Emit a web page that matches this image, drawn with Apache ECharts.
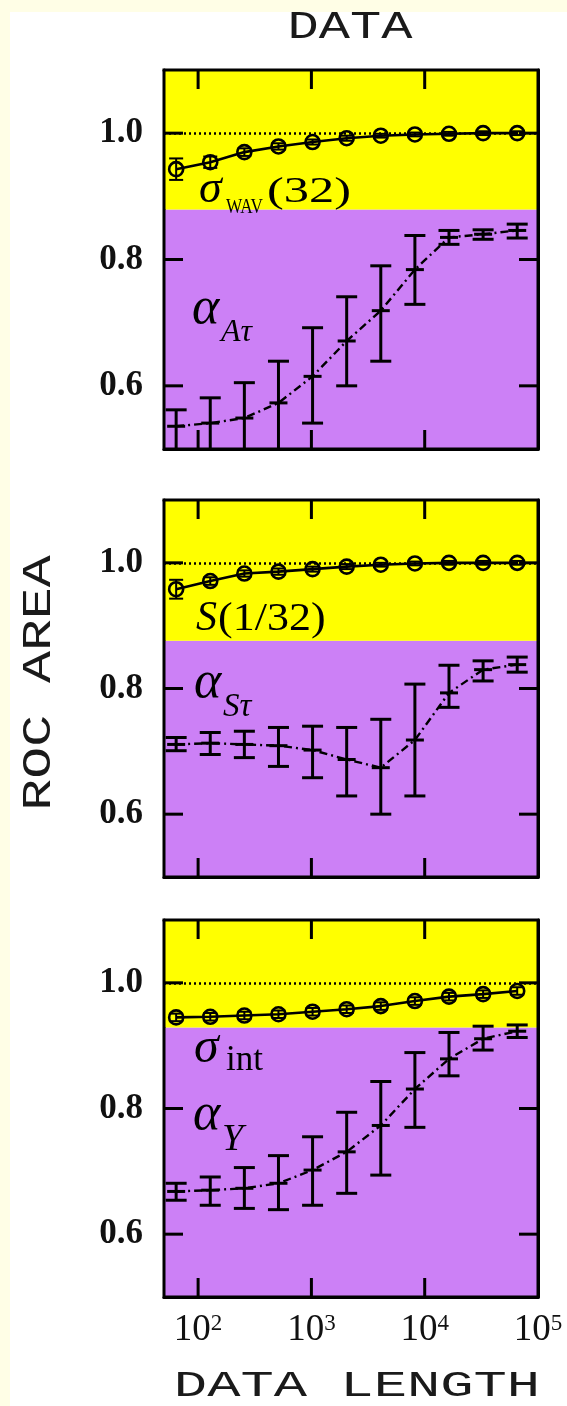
<!DOCTYPE html>
<html><head><meta charset="utf-8">
<script src="https://cdn.jsdelivr.net/npm/echarts@6/dist/echarts.min.js"></script>
<style>html,body{margin:0;padding:0;background:#fff}#c{width:567px;height:1406px}</style>
</head><body><div id="c"></div>
<script>
// ---------------- DATA ----------------
const dataLengths = [64, 128, 256, 512, 1024, 2048, 4096, 8192, 16384, 32768, 65536];
const xTickExponents = [2, 3, 4, 5];
const xTickValues = [100, 1000, 10000];
const yTickValues = [0.6, 0.8, 1.0];

// Panel 1: sigma_WAV(32) and alpha_Atau
const sigmaWav = [0.943, 0.954, 0.970, 0.979, 0.986, 0.992, 0.996, 0.998, 0.999, 1.000, 1.000];
const sigmaWavErr = [0.017, 0.009, 0.006, 0.005, 0.004, 0.004, 0.003, 0.003, 0.003, 0.003, 0.003];
const alphaAtau = [0.536, 0.541, 0.549, 0.573, 0.615, 0.671, 0.719, 0.784, 0.835, 0.840, 0.846];
const alphaAtauLo = [0.49, 0.49, 0.49, 0.49, 0.541, 0.600, 0.639, 0.729, 0.824, 0.832, 0.834];
const alphaAtauHi = [0.562, 0.581, 0.605, 0.639, 0.692, 0.741, 0.790, 0.838, 0.846, 0.847, 0.856];

// Panel 2: S(1/32) and alpha_Stau
const sOneThirtyTwo = [0.958, 0.971, 0.983, 0.986, 0.990, 0.994, 0.997, 0.999, 1.000, 1.000, 1.000];
const sOneThirtyTwoErr = [0.015, 0.006, 0.005, 0.005, 0.004, 0.004, 0.003, 0.003, 0.003, 0.003, 0.003];
const alphaStau = [0.711, 0.713, 0.711, 0.709, 0.702, 0.687, 0.674, 0.718, 0.793, 0.830, 0.838];
const alphaStauLo = [0.701, 0.695, 0.690, 0.676, 0.658, 0.629, 0.600, 0.629, 0.770, 0.812, 0.826];
const alphaStauHi = [0.722, 0.730, 0.732, 0.738, 0.740, 0.738, 0.751, 0.807, 0.837, 0.844, 0.850];

// Panel 3: sigma_int and alpha_Y
const sigmaInt = [0.945, 0.946, 0.948, 0.950, 0.954, 0.958, 0.963, 0.971, 0.978, 0.982, 0.987];
const sigmaIntErr = [0.006, 0.006, 0.006, 0.006, 0.006, 0.006, 0.006, 0.006, 0.006, 0.006, 0.006];
const alphaY = [0.668, 0.670, 0.673, 0.681, 0.702, 0.731, 0.773, 0.831, 0.879, 0.911, 0.923];
const alphaYLo = [0.654, 0.646, 0.641, 0.639, 0.646, 0.665, 0.694, 0.770, 0.852, 0.893, 0.913];
const alphaYHi = [0.681, 0.691, 0.706, 0.725, 0.755, 0.794, 0.843, 0.889, 0.921, 0.931, 0.933];

// yellow / purple band boundary per panel
const bandSplit = [0.879, 0.876, 0.929];
const referenceLevel = 1.0;

// ---------------- STYLE / LAYOUT ----------------
const YELLOW = '#FFFF00', PURPLE = '#CC80F6';
const SERIF = '"Liberation Serif", "Times New Roman", serif';
const MONO = '"Liberation Mono", "Courier New", monospace';
const X_MIN = 50, X_MAX = 100000, Y_MIN = 0.5, Y_MAX = 1.1;
const TICK_LEN = 19;

const panels = [
  {sig: sigmaWav, sigErr: sigmaWavErr, a: alphaAtau, lo: alphaAtauLo, hi: alphaAtauHi, split: bandSplit[0]},
  {sig: sOneThirtyTwo, sigErr: sOneThirtyTwoErr, a: alphaStau, lo: alphaStauLo, hi: alphaStauHi, split: bandSplit[1]},
  {sig: sigmaInt, sigErr: sigmaIntErr, a: alphaY, lo: alphaYLo, hi: alphaYHi, split: bandSplit[2]}
];
const gridPos = [
  {left: 164, right: 29, top: 70, height: 379},
  {left: 164, right: 29, top: 500, height: 377},
  {left: 164, right: 29, top: 920, height: 377}
];

function tickStyle() { return {show: true, inside: true, length: TICK_LEN, lineStyle: {color: '#000', width: 3}}; }
function axisLineStyle() { return {show: true, lineStyle: {color: '#000', width: 3}}; }
function isYTick(v) { return yTickValues.some(t => Math.abs(t - v) < 1e-6); }

const grid = [], xAxis = [], yAxis = [], series = [];

function errRender(capW, midW, lw) {
  return function (params, api) {
    const x = api.value(0), lo = api.value(1), hi = api.value(2), m = api.value(3);
    const pH = api.coord([x, hi]), pL = api.coord([x, lo]), pM = api.coord([x, m]);
    const st = {stroke: '#000', lineWidth: lw};
    const children = [
      {type: 'line', shape: {x1: pH[0], y1: pH[1], x2: pL[0], y2: pL[1]}, style: st},
      {type: 'line', shape: {x1: pH[0] - capW / 2, y1: pH[1], x2: pH[0] + capW / 2, y2: pH[1]}, style: st},
      {type: 'line', shape: {x1: pL[0] - capW / 2, y1: pL[1], x2: pL[0] + capW / 2, y2: pL[1]}, style: st}
    ];
    if (midW > 0) children.push({type: 'line', shape: {x1: pM[0] - midW / 2, y1: pM[1], x2: pM[0] + midW / 2, y2: pM[1]}, style: st});
    return {type: 'group', children};
  };
}

panels.forEach((p, k) => {
  grid.push(gridPos[k]);
  const isLast = k === panels.length - 1;
  xAxis.push({
    type: 'log', gridIndex: k, min: X_MIN, max: X_MAX, position: 'bottom',
    axisLine: axisLineStyle(), axisTick: tickStyle(), minorTick: {show: false}, splitLine: {show: false},
    axisLabel: {
      show: isLast, margin: 15, color: '#111', fontFamily: SERIF,
      formatter: function (v) {
        const e = Math.log10(v);
        const r = Math.round(e);
        if (Math.abs(e - r) > 1e-6 || xTickExponents.indexOf(r) < 0) return '';
        return '{b|10}{s|' + r + '}';
      },
      rich: {
        b: {fontSize: 37, lineHeight: 37, fontFamily: SERIF, color: '#111'},
        s: {fontSize: 23, lineHeight: 23, fontFamily: SERIF, color: '#111', verticalAlign: 'top'}
      }
    }
  });
  xAxis.push({
    type: 'log', gridIndex: k, min: X_MIN, max: X_MAX, position: 'top',
    axisLine: axisLineStyle(), axisTick: tickStyle(), minorTick: {show: false}, splitLine: {show: false},
    axisLabel: {show: false}
  });
  yAxis.push({
    type: 'value', gridIndex: k, min: Y_MIN, max: Y_MAX, interval: 0.1, position: 'left',
    axisLine: axisLineStyle(), splitLine: {show: false}, axisTick: {show: false},
    axisLabel: {margin: 21, fontFamily: SERIF, fontWeight: 'bold', fontSize: 35, color: '#111',
      showMinLabel: false, showMaxLabel: false,
      formatter: v => (isYTick(v) ? v.toFixed(1) : '')}
  });
  yAxis.push({
    type: 'value', gridIndex: k, min: Y_MIN, max: Y_MAX, interval: 0.1, position: 'right',
    axisLine: axisLineStyle(), splitLine: {show: false}, axisTick: {show: false},
    axisLabel: {show: false}
  });
  const xi = 2 * k, yi = 2 * k;
  // alpha dashed line + background bands + reference line
  series.push({
    type: 'line', xAxisIndex: xi, yAxisIndex: yi, z: 2, silent: true,
    data: dataLengths.map((n, i) => [n, p.a[i]]),
    showSymbol: false, symbol: 'none',
    lineStyle: {color: '#000', width: 2.4, type: [8, 4, 2, 4]},
    markArea: {
      silent: true,
      data: [
        [{yAxis: Y_MIN, itemStyle: {color: PURPLE}}, {yAxis: p.split}],
        [{yAxis: p.split, itemStyle: {color: YELLOW}}, {yAxis: Y_MAX}]
      ]
    },
    markLine: {
      silent: true, symbol: ['none', 'none'], label: {show: false},
      lineStyle: {color: '#000', width: 2.5, type: [2, 3]},
      emphasis: {disabled: true},
      data: [{yAxis: referenceLevel}]
    }
  });
  // alpha error bars
  series.push({
    type: 'custom', xAxisIndex: xi, yAxisIndex: yi, z: 4, clip: true, silent: true,
    renderItem: errRender(21, 18, 3),
    encode: {x: 0, y: [1, 2]},
    data: dataLengths.map((n, i) => [n, p.lo[i], p.hi[i], p.a[i]])
  });
  // sigma solid line with circles
  series.push({
    type: 'line', xAxisIndex: xi, yAxisIndex: yi, z: 5, silent: true,
    data: dataLengths.map((n, i) => [n, p.sig[i]]),
    symbol: 'circle', symbolSize: 14,
    itemStyle: {color: 'rgba(0,0,0,0)', borderColor: '#000', borderWidth: 2.6},
    lineStyle: {color: '#000', width: 2.6}
  });
  series.push({
    type: 'custom', xAxisIndex: xi, yAxisIndex: yi, z: 6, clip: true, silent: true,
    renderItem: errRender(14, 0, 2),
    encode: {x: 0, y: [1, 2]},
    data: dataLengths.map((n, i) => [n, p.sig[i] - p.sigErr[i], p.sig[i] + p.sigErr[i], p.sig[i]])
  });
});

function txt(text, x, y, font, extra) {
  return Object.assign({type: 'text', x: x, y: y, z: 100, silent: true,
    style: {text: text, font: font, fill: '#000', textAlign: 'left', textVerticalAlign: 'middle'}}, extra || {});
}

const graphic = [
  {type: 'rect', shape: {x: 0, y: 0, width: 567, height: 12}, style: {fill: '#FFFEE6'}, z: 0, silent: true},
  {type: 'rect', shape: {x: 0, y: 0, width: 10, height: 1406}, style: {fill: '#FFFEE6'}, z: 0, silent: true},
  {type: 'text', x: 350, y: 28, scaleX: 1.37, z: 100, silent: true,
    style: {text: 'DATA', font: '38px ' + MONO, fill: '#1a1a1a', textAlign: 'center', textVerticalAlign: 'middle'}},
  {type: 'text', x: 357, y: 1386, scaleX: 1.5, z: 100, silent: true,
    style: {text: 'DATA LENGTH', font: '37px ' + MONO, fill: '#1a1a1a', textAlign: 'center', textVerticalAlign: 'middle'}},
  {type: 'text', x: 39, y: 683, rotation: Math.PI / 2, scaleX: 1.33, z: 100, silent: true,
    style: {text: 'ROC AREA', font: '40px ' + MONO, fill: '#1a1a1a', textAlign: 'center', textVerticalAlign: 'middle'}},
  // panel 1 labels
  txt('σ', 199, 190, 'italic 46px ' + SERIF),
  txt('WAV', 226, 207, '21px ' + SERIF, {scaleX: 0.82}),
  txt('(32)', 267, 193, '36px ' + SERIF, {scaleX: 1.4}),
  txt('α', 192, 309, 'italic 52px ' + SERIF),
  txt('Aτ', 221, 333, 'italic 32px ' + SERIF),
  // panel 2 labels
  txt('S', 196, 619, 'italic 42px ' + SERIF),
  txt('(1/32)', 218, 619, '40px ' + SERIF, {scaleX: 1.1}),
  txt('α', 194, 683, 'italic 52px ' + SERIF),
  txt('Sτ', 223, 707, 'italic 33px ' + SERIF),
  // panel 3 labels
  txt('σ', 194, 1049, 'italic 50px ' + SERIF),
  txt('int', 226, 1061, '35px ' + SERIF),
  txt('α', 193, 1115, 'italic 52px ' + SERIF),
  txt('Y', 222, 1140, 'italic 38px ' + SERIF)
];

const chart = echarts.init(document.getElementById('c'), null, {renderer: 'canvas'});
chart.setOption({
  animation: false,
  backgroundColor: '#fff',
  grid, xAxis, yAxis, series, graphic
});

// Frame and inward ticks on all four sides, placed through the axes' own scales.
const extra = [];
const tst = {stroke: '#000', lineWidth: 3};
function pix(ax, pt) {
  try {
    const r = chart.convertToPixel(ax, pt);
    if (r && isFinite(r[0]) && isFinite(r[1])) return r;
  } catch (e) { }
  return null;
}
panels.forEach((p, k) => {
  const ax = {xAxisIndex: 2 * k, yAxisIndex: 2 * k};
  const tl = pix(ax, [X_MIN, Y_MAX]);
  const br = pix(ax, [X_MAX, Y_MIN]);
  if (!tl || !br) return;
  extra.push({type: 'rect', z: 119, silent: true,
    shape: {x: tl[0], y: tl[1], width: br[0] - tl[0], height: br[1] - tl[1]},
    style: {fill: 'none', stroke: '#000', lineWidth: 3}});
  yTickValues.forEach(v => {
    const q = pix(ax, [X_MIN, v]);
    if (!q) return;
    extra.push({type: 'line', z: 120, silent: true, shape: {x1: tl[0], y1: q[1], x2: tl[0] + TICK_LEN, y2: q[1]}, style: tst});
    extra.push({type: 'line', z: 120, silent: true, shape: {x1: br[0], y1: q[1], x2: br[0] - TICK_LEN, y2: q[1]}, style: tst});
  });
  xTickValues.forEach(v => {
    const q = pix(ax, [v, Y_MIN]);
    if (!q) return;
    extra.push({type: 'line', z: 120, silent: true, shape: {x1: q[0], y1: tl[1], x2: q[0], y2: tl[1] + TICK_LEN}, style: tst});
    extra.push({type: 'line', z: 120, silent: true, shape: {x1: q[0], y1: br[1], x2: q[0], y2: br[1] - TICK_LEN}, style: tst});
  });
});
try {
  chart.setOption({graphic: graphic.concat(extra)});
} catch (e) { }
</script>
</body></html>
